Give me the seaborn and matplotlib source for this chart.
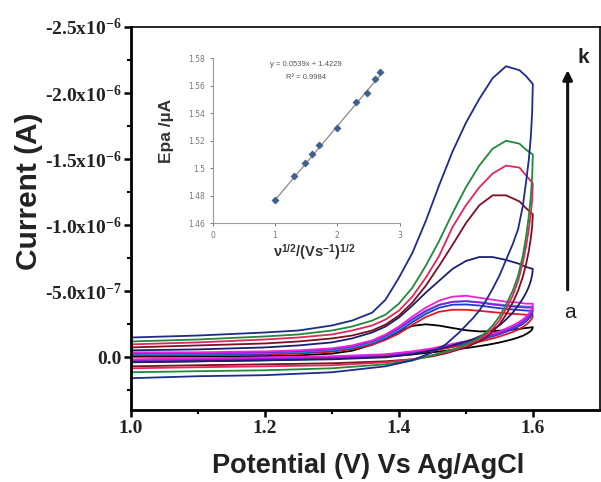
import numpy as np
import pandas as pd
import matplotlib
matplotlib.use("Agg")
import matplotlib.pyplot as plt
import seaborn as sns

# ---- cyclic voltammograms (current in units of 1e-6 A) ----
scan_labels = ["a", "b", "c", "d", "e", "f", "g", "h", "i", "j", "k"]
scan_colors = ["#000000", "#e8161c", "#1f3bd6", "#15a3b8", "#8a1fe0", "#f01ed8",
               "#1b1f6e", "#7a1020", "#e4245a", "#1f8a3a", "#1e2a8c"]

E_forward = [1.00, 1.10, 1.20, 1.25, 1.30, 1.33, 1.36, 1.38, 1.40, 1.42, 1.44, 1.46,
             1.48, 1.50, 1.52, 1.54, 1.56, 1.58, 1.59, 1.60]
E_reverse = [1.60, 1.599, 1.597, 1.594, 1.59, 1.585, 1.578, 1.57, 1.56, 1.55, 1.54,
             1.53, 1.52, 1.51, 1.50, 1.49, 1.47, 1.45, 1.42, 1.38, 1.30, 1.20, 1.10, 1.00]

I_forward = {
    "a": [-0.005, -0.006, -0.010, -0.015, -0.028, -0.050, -0.095, -0.140, -0.195, -0.238,
          -0.250, -0.240, -0.222, -0.205, -0.196, -0.198, -0.205, -0.215, -0.222, -0.228],
    "b": [-0.015, -0.016, -0.022, -0.028, -0.042, -0.062, -0.095, -0.132, -0.180, -0.245,
          -0.305, -0.345, -0.360, -0.360, -0.352, -0.342, -0.333, -0.326, -0.322, -0.320],
    "c": [-0.020, -0.021, -0.028, -0.035, -0.050, -0.070, -0.105, -0.145, -0.198, -0.265,
          -0.328, -0.375, -0.398, -0.400, -0.392, -0.378, -0.366, -0.358, -0.354, -0.352],
    "d": [-0.025, -0.026, -0.033, -0.040, -0.055, -0.076, -0.112, -0.155, -0.210, -0.280,
          -0.345, -0.395, -0.420, -0.425, -0.418, -0.405, -0.395, -0.388, -0.384, -0.383],
    "e": [-0.030, -0.030, -0.038, -0.045, -0.060, -0.083, -0.120, -0.163, -0.220, -0.290,
          -0.352, -0.398, -0.420, -0.425, -0.415, -0.400, -0.388, -0.380, -0.377, -0.376],
    "f": [-0.038, -0.038, -0.045, -0.053, -0.068, -0.090, -0.128, -0.173, -0.233, -0.308,
          -0.376, -0.429, -0.459, -0.466, -0.451, -0.436, -0.421, -0.414, -0.406, -0.406],
    "g": [-0.053, -0.060, -0.075, -0.090, -0.113, -0.143, -0.188, -0.233, -0.301, -0.391,
          -0.489, -0.579, -0.669, -0.729, -0.759, -0.759, -0.737, -0.707, -0.684, -0.669],
    "h": [-0.075, -0.090, -0.105, -0.120, -0.143, -0.165, -0.203, -0.248, -0.316, -0.414,
          -0.541, -0.692, -0.850, -1.015, -1.150, -1.226, -1.226, -1.180, -1.128, -1.083],
    "i": [-0.098, -0.113, -0.135, -0.150, -0.173, -0.203, -0.241, -0.286, -0.353, -0.459,
          -0.602, -0.767, -0.985, -1.150, -1.286, -1.391, -1.451, -1.436, -1.376, -1.316],
    "j": [-0.120, -0.135, -0.158, -0.173, -0.203, -0.233, -0.278, -0.323, -0.406, -0.526,
          -0.692, -0.880, -1.090, -1.286, -1.451, -1.579, -1.639, -1.617, -1.571, -1.534],
    "k": [-0.150, -0.165, -0.188, -0.203, -0.241, -0.278, -0.338, -0.436, -0.602, -0.789,
          -1.030, -1.301, -1.556, -1.774, -1.955, -2.113, -2.203, -2.173, -2.128, -2.068],
}
I_reverse = {
    "a": [-0.228, -0.212, -0.200, -0.188, -0.176, -0.163, -0.150, -0.137, -0.124, -0.112,
          -0.102, -0.093, -0.085, -0.077, -0.070, -0.064, -0.050, -0.038, -0.022, -0.006,
          0.010, 0.022, 0.030, 0.035],
    "b": [-0.320, -0.298, -0.282, -0.265, -0.247, -0.229, -0.210, -0.192, -0.174, -0.157,
          -0.143, -0.130, -0.118, -0.106, -0.095, -0.087, -0.068, -0.050, -0.030, -0.010,
          0.006, 0.016, 0.024, 0.030],
    "c": [-0.352, -0.328, -0.310, -0.292, -0.272, -0.252, -0.232, -0.212, -0.193, -0.174,
          -0.159, -0.145, -0.132, -0.119, -0.106, -0.098, -0.078, -0.058, -0.037, -0.016,
          0.000, 0.010, 0.018, 0.026],
    "d": [-0.383, -0.355, -0.335, -0.315, -0.293, -0.272, -0.250, -0.228, -0.207, -0.186,
          -0.170, -0.156, -0.142, -0.128, -0.114, -0.106, -0.085, -0.064, -0.042, -0.020,
          -0.004, 0.006, 0.013, 0.020],
    "e": [-0.376, -0.350, -0.330, -0.310, -0.290, -0.268, -0.246, -0.225, -0.204, -0.183,
          -0.168, -0.154, -0.140, -0.126, -0.112, -0.104, -0.083, -0.062, -0.040, -0.018,
          -0.002, 0.008, 0.015, 0.022],
    "f": [-0.406, -0.376, -0.353, -0.331, -0.308, -0.286, -0.263, -0.241, -0.218, -0.195,
          -0.180, -0.165, -0.150, -0.135, -0.120, -0.113, -0.090, -0.068, -0.045, -0.023,
          -0.008, 0.000, 0.008, 0.015],
    "g": [-0.669, -0.624, -0.579, -0.534, -0.489, -0.444, -0.391, -0.338, -0.286, -0.241,
          -0.211, -0.180, -0.158, -0.135, -0.120, -0.105, -0.075, -0.053, -0.023, 0.000,
          0.015, 0.023, 0.030, 0.038],
    "h": [-1.083, -0.992, -0.902, -0.805, -0.707, -0.609, -0.504, -0.414, -0.323, -0.248,
          -0.195, -0.150, -0.120, -0.098, -0.075, -0.060, -0.030, -0.008, 0.015, 0.030,
          0.045, 0.053, 0.060, 0.068],
    "i": [-1.316, -1.195, -1.083, -0.970, -0.842, -0.714, -0.579, -0.466, -0.368, -0.278,
          -0.218, -0.173, -0.135, -0.113, -0.090, -0.068, -0.038, -0.015, 0.015, 0.038,
          0.060, 0.068, 0.075, 0.083],
    "j": [-1.534, -1.368, -1.218, -1.068, -0.917, -0.767, -0.617, -0.504, -0.398, -0.308,
          -0.241, -0.188, -0.150, -0.120, -0.098, -0.075, -0.045, -0.015, 0.023, 0.053,
          0.083, 0.098, 0.105, 0.113],
    "k": [-2.068, -1.857, -1.669, -1.496, -1.331, -1.143, -0.970, -0.857, -0.737, -0.617,
          -0.519, -0.429, -0.353, -0.293, -0.241, -0.188, -0.098, -0.038, 0.023, 0.068,
          0.113, 0.135, 0.143, 0.158],
}

# ---- inset: peak potential vs square root of scan rate ----
sqrt_rate = [1.00, 1.30, 1.48, 1.60, 1.70, 2.00, 2.30, 2.48, 2.60, 2.68]
Epa = [1.4766, 1.494, 1.504, 1.510, 1.517, 1.5295, 1.548, 1.555, 1.565, 1.570]
fit_slope, fit_intercept, fit_r2 = 0.0539, 1.4229, 0.9984

y_ticks = [-2.5e-6, -2.0e-6, -1.5e-6, -1.0e-6, -5.0e-7, 0.0]
y_tick_labels = [r"-2.5x10$^{-6}$", r"-2.0x10$^{-6}$", r"-1.5x10$^{-6}$",
                 r"-1.0x10$^{-6}$", r"-5.0x10$^{-7}$", "0.0"]
x_ticks = [1.0, 1.2, 1.4, 1.6]
x_tick_labels = ["1.0", "1.2", "1.4", "1.6"]

# ---- build long-form table ----
rows = []
for lab in scan_labels:
    Es = E_forward + E_reverse
    Is = I_forward[lab] + I_reverse[lab]
    for n, (e, i) in enumerate(zip(Es, Is)):
        rows.append({"scan": lab, "order": n, "E": e, "I": i * 1e-6})
cv = pd.DataFrame(rows)

sns.set_theme(style="white")
plt.rcParams["mathtext.fontset"] = "custom"
plt.rcParams["mathtext.rm"] = "Liberation Serif:bold"
plt.rcParams["mathtext.it"] = "Liberation Serif:bold"
plt.rcParams["mathtext.bf"] = "Liberation Serif:bold"
plt.rcParams["mathtext.sf"] = "Liberation Sans:bold"

fig = plt.figure(figsize=(6.01, 4.82), dpi=100)
ax = fig.add_axes([0.218, 0.149, 0.780, 0.795])

sns.lineplot(data=cv, x="E", y="I", hue="scan", hue_order=scan_labels,
             palette=scan_colors, sort=False, estimator=None, units="scan",
             lw=1.3, legend=False, ax=ax)

ax.set_xlim(1.0, 1.7)
ax.set_ylim(0.4e-6, -2.5e-6)
ax.set_xticks(x_ticks)
ax.set_xticklabels(x_tick_labels)
ax.set_xticks([1.1, 1.3, 1.5], minor=True)
ax.set_yticks(y_ticks)
ax.set_yticklabels(y_tick_labels)
ax.set_yticks([-2.25e-6, -1.75e-6, -1.25e-6, -0.75e-6, -0.25e-6, 0.25e-6], minor=True)
for lab in ax.get_xticklabels() + ax.get_yticklabels():
    lab.set_fontfamily("Liberation Serif")
    lab.set_fontweight("bold")
    lab.set_fontsize(14)
    lab.set_color("#222222")
ax.tick_params(which="major", direction="out", length=5, width=1.8, color="black",
               left=True, bottom=True, pad=2)
ax.tick_params(which="minor", direction="out", length=3, width=1.5, color="black",
               left=True, bottom=True)
for side in ["left", "bottom"]:
    ax.spines[side].set_linewidth(2.0)
    ax.spines[side].set_color("black")
for side in ["top", "right"]:
    ax.spines[side].set_linewidth(1.2)
    ax.spines[side].set_color("black")

ax.set_xlabel("Potential (V) Vs Ag/AgCl", fontsize=19.5, fontweight="bold",
              family="Liberation Sans", color="#222222")
ax.xaxis.set_label_coords(0.505, -0.112)
ax.set_ylabel("Current (A)", fontsize=21.5, fontweight="bold",
              family="Liberation Sans", color="#222222")
ax.yaxis.set_label_coords(-0.188, 0.572)

# scan-rate direction arrow
ax.annotate("", xy=(1.652, -2.195e-6), xytext=(1.652, -0.49e-6),
            arrowprops=dict(arrowstyle="-|>", color="#111111", lw=2.2,
                            mutation_scale=14))
ax.text(1.676, -2.27e-6, "k", fontsize=15, fontweight="bold",
        family="Liberation Sans", ha="center", va="center", color="#222222")
ax.text(1.655, -0.34e-6, "a", fontsize=15, family="Liberation Sans",
        ha="center", va="center", color="#222222")

# ---- inset ----
ins = fig.add_axes([0.354, 0.537, 0.311, 0.342])
ins.set_facecolor("none")
fit_x = [sqrt_rate[0], sqrt_rate[-1]]
fit_y = [fit_slope * v + fit_intercept for v in fit_x]
sns.lineplot(x=fit_x, y=fit_y, color="#8a8a8a", lw=0.9, ax=ins)
sns.scatterplot(x=sqrt_rate, y=Epa, marker="D", s=14, color="#3f5f8f",
                edgecolor="#3f5f8f", ax=ins, zorder=3)
ins.set_xlim(0, 3)
ins.set_ylim(1.46, 1.58)
ins.set_xticks([0, 1, 2, 3])
ins.set_xticklabels(["0", "1", "2", "3"])
ins.set_yticks([1.46, 1.48, 1.50, 1.52, 1.54, 1.56, 1.58])
ins.set_yticklabels(["1.46", "1.48", "1.5", "1.52", "1.54", "1.56", "1.58"])
ins.tick_params(labelsize=5.5, colors="#777777", length=2.5, width=0.7,
                direction="out", left=True, bottom=True, pad=3)
for side in ["top", "right"]:
    ins.spines[side].set_visible(False)
for side in ["left", "bottom"]:
    ins.spines[side].set_color("#9a9a9a")
    ins.spines[side].set_linewidth(0.8)
ins.set_ylabel("Epa /µA", fontsize=12.5, fontweight="bold", family="Liberation Sans",
               color="#333333")
ins.yaxis.set_label_coords(-0.205, 0.56)
ins.set_xlabel(r"ν$^{\mathsf{1/2}}$/(Vs$^{\mathsf{-1}}$)$^{\mathsf{1/2}}$", fontsize=10.5,
               fontweight="bold", family="Liberation Sans", color="#333333")
ins.xaxis.set_label_coords(0.545, -0.12)
ins.text(0.50, 0.965, f"y = {fit_slope}x + {fit_intercept}", transform=ins.transAxes,
         fontsize=5.5, ha="center", va="center", color="#555555",
         family="Liberation Sans")
ins.text(0.50, 0.885, f"R² = {fit_r2}", transform=ins.transAxes,
         fontsize=5.5, ha="center", va="center", color="#555555",
         family="Liberation Sans")

fig.savefig("out.png", dpi=100, facecolor="white")
